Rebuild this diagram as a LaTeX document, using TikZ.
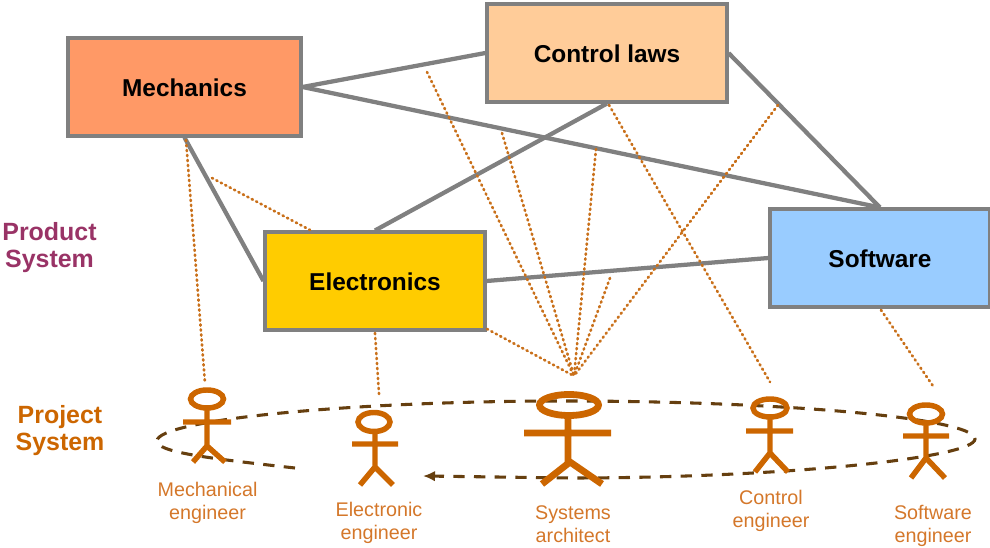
\documentclass[tikz,border=0pt]{standalone}
\usepackage{fontspec}
\usetikzlibrary{arrows.meta}
\setmainfont{Liberation Sans}
\definecolor{acolor}{HTML}{CC6600}
\definecolor{rolecolor}{HTML}{D4772A}
\definecolor{dotcolor}{HTML}{C9701A}
\definecolor{lnk}{HTML}{808080}
\definecolor{brownline}{HTML}{663F0F}
\definecolor{purp}{HTML}{993366}
\newcommand\boxstrut{\rule{0pt}{15pt}}
\begin{document}
\begin{tikzpicture}[x=0.75pt,y=-0.75pt,
  box/.style={draw=lnk,line width=2.3pt,inner sep=0pt,minimum height=73.5pt,font=\fontsize{18.3}{22}\selectfont\bfseries,text=black},
  link/.style={draw=lnk,line width=3.2pt},
  dots/.style={draw=dotcolor,line width=2pt,line cap=round,dash pattern=on 0.9pt off 2.85pt},
  ring/.style={draw=brownline,line width=2.3pt,dash pattern=on 8.5pt off 7pt},
  actorthin/.style={draw=acolor,line width=4.1pt},
  actorthick/.style={draw=acolor,line width=5.1pt},
  role/.style={text=rolecolor,align=center,font=\fontsize{14.8}{17.3}\selectfont,inner sep=0pt},
  sys/.style={align=center,font=\fontsize{18.7}{20.3}\selectfont\bfseries,inner sep=0pt}]
\useasboundingbox (0,0) rectangle (990,548);

\node[box,minimum width=174.75pt,fill={rgb,255:red,255;green,153;blue,102}] (mech) at (184.5,87) {\boxstrut Mechanics};
\node[box,minimum width=180pt,fill={rgb,255:red,255;green,204;blue,153}] (ctrl) at (607,53) {\boxstrut Control laws};
\node[box,minimum width=165pt,fill={rgb,255:red,255;green,204;blue,0}] (elec) at (375,281) {\boxstrut Electronics};
\node[box,minimum width=165pt,fill={rgb,255:red,153;green,204;blue,255}] (soft) at (880,258) {\boxstrut Software};

\draw[link] (mech.east) -- (ctrl.west);
\draw[link] (mech.east) -- (soft.north);
\draw[link] (ctrl.south) -- (elec.north);
\draw[link] (ctrl.east) -- (soft.north);
\draw[link] (mech.south) -- (elec.west);
\draw[link] (elec.east) -- (soft.west);

\coordinate (hub) at (574,376);
\coordinate (f1) at (427,72);
\coordinate (f2) at (502,133);
\coordinate (f3) at (596,149);
\coordinate (f4) at (610,278);
\coordinate (f5) at (778,105);
\coordinate (f6) at (487,329);
\coordinate (c1) at (609,105);
\coordinate (c2) at (770,382);
\coordinate (m1) at (186,140);
\coordinate (m2) at (205,383);
\coordinate (m3) at (212,178);
\coordinate (m4) at (310,230);
\coordinate (e1) at (375,333);
\coordinate (e2) at (379,394);
\coordinate (s1) at (881,310);
\coordinate (s2) at (933,386);
\foreach \p in {f1,f2,f3,f4,f5,f6} \draw[dots] (\p) -- (hub);
\draw[dots] (c1) -- (c2);
\draw[dots] (m1) -- (m2);
\draw[dots] (m3) -- (m4);
\draw[dots] (e1) -- (e2);
\draw[dots] (s1) -- (s2);

\coordinate (rs) at (295,468);
\coordinate (re) at (423,476);
\draw[ring,-{Latex[length=9pt,width=8pt]}] (rs) .. controls (205,458) and (157,452) .. (157,441)
  .. controls (157,420) and (350,401) .. (565,401)
  .. controls (780,401) and (975,418) .. (975,439)
  .. controls (975,458) and (780,478) .. (570,478) -- (re);

% Mechanical engineer
\draw[actorthin] (207,399) ellipse (16.5 and 9);
\draw[actorthin] (207,408) -- (207,446) (183,422) -- (231,422) (193,462) -- (207,446) -- (225,462);
% Electronic engineer
\draw[actorthin] (374,422) ellipse (16 and 9.5);
\draw[actorthin] (375,431) -- (375,467) (360,485) -- (375,467) -- (393,485) (352,444) -- (398,444);
% Systems architect
\draw[actorthick] (569,405) ellipse (29.5 and 10.5);
\draw[actorthick] (568,416) -- (568,462) (524,433) -- (611,433) (542,484) -- (570,462) -- (602,484);
% Control engineer
\draw[actorthin] (770,408) ellipse (17 and 9);
\draw[actorthin] (770,417) -- (770,453) (746,431) -- (793,431) (755,472) -- (770,453) -- (788,472);
% Software engineer
\draw[actorthin] (926,414) ellipse (16.5 and 9);
\draw[actorthin] (926,423) -- (926,458) (903,436) -- (949,436) (911,478) -- (926,458) -- (945,478);

\node[role] (lm) at (207.5,503) {Mechanical\\engineer};
\node[role] (le) at (379,523) {Electronic\\engineer};
\node[role] (ls) at (573,524) {Systems\\architect};
\node[role] (lc) at (771,511) {Control\\engineer};
\node[role] (lsw) at (933,526) {Software\\engineer};

\node[sys,text=purp] (prod) at (49.5,247.5) {Product\\System};
\node[sys,text=acolor] (proj) at (60,431) {Project\\System};
\end{tikzpicture}
\end{document}
